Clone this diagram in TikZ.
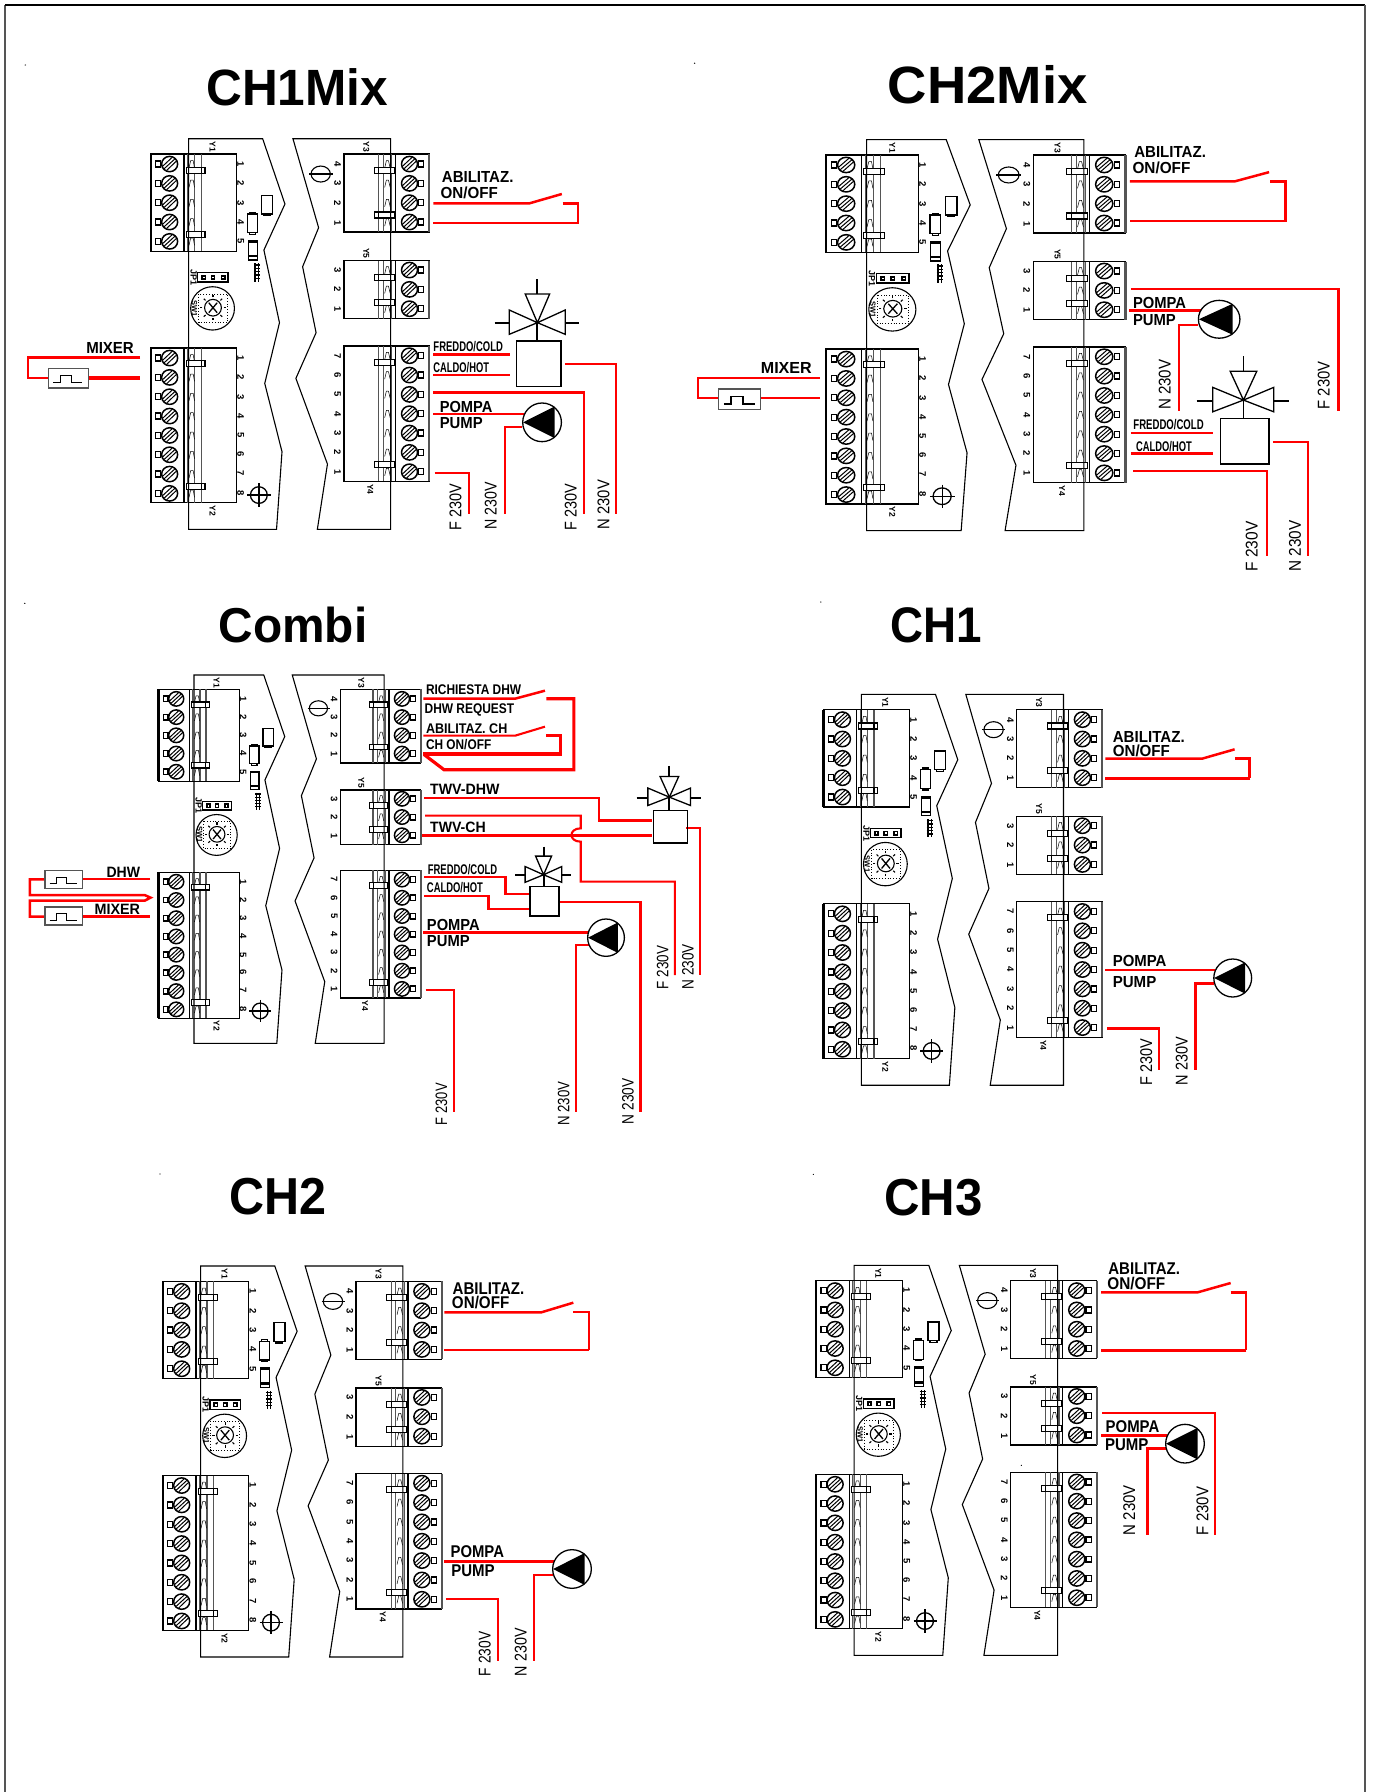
\documentclass[tikz,border=0pt]{standalone}
\usepackage{graphicx}
\usepackage{fontspec}
\setmainfont{Liberation Sans}
\newcount\lbn
\definecolor{wirered}{HTML}{FF0000}
\definecolor{edgegray}{HTML}{555555}
\tikzset{
  wa/.style={draw=wirered,line width=2.1pt,line cap=butt,line join=miter},
  wb/.style={draw=wirered,line width=2.5pt,line cap=butt,line join=miter},
  wc/.style={draw=wirered,line width=3.2pt,line cap=butt,line join=miter},
  thinl/.style={draw=black,line width=1.1pt},
  medl/.style={draw=black,line width=1.3pt},
  txt/.style={inner sep=0pt,outer sep=0pt},
}
% horizontal bold label x1 x2 baseline size text
\newcommand{\lab}[5]{\global\advance\lbn 1\relax
  \pgfmathsetlengthmacro\lw{(#2-#1)/\psx}%
  \node[txt,anchor=base west] (lab\the\lbn) at (#1,#3)
    {\resizebox{\lw}{\height}{\fontsize{#4}{#4}\selectfont\bfseries #5}};}
% vertical label baseline-x ybottom ytop size text
\newcommand{\vlab}[5]{\global\advance\lbn 1\relax
  \pgfmathsetlengthmacro\lw{(#2-#3)/\psy}%
  \node[txt,anchor=base west,rotate=90] (lab\the\lbn) at (#1,#2)
    {\resizebox{\lw}{\height}{\fontsize{#4}{#4}\selectfont #5}};}
\newcommand{\sm}[4][]{\global\advance\lbn 1\relax
  \node[txt,rotate=-90] (lab\the\lbn) at (#2,#3) {\fontsize{#4}{#4}\selectfont\bfseries #1};}
% terminals
\newcommand{\rowL}[1]{%
  \draw[medl] (370,#1-9) rectangle (382,#1+9);
  \draw[line width=1.5pt] (403,#1) ellipse[x radius=19,y radius=23];
  \draw[line width=1pt] (390,#1+14)--(416,#1-16) (396,#1+19)--(420,#1-10) (386,#1+7)--(409,#1-20);
  \draw[line width=.5pt] (449,#1+12)--(453,#1-10)--(459,#1-10)--(462,#1+12);
}
\newcommand{\rowR}[1]{%
  \draw[medl] (995,#1-9) rectangle (1007,#1+9);
  \draw[line width=1.5pt] (973,#1) ellipse[x radius=19,y radius=23];
  \draw[line width=1pt] (960,#1+14)--(986,#1-16) (966,#1+19)--(990,#1-10) (956,#1+7)--(979,#1-20);
  \draw[line width=.5pt] (914,#1+12)--(918,#1-10)--(923,#1-10)--(927,#1+12);
}
\newcommand{\clampL}[1]{\draw[thinl,fill=white] (442,#1-9) rectangle (487,#1+9); \draw[thinl] (478,#1-9)--(478,#1+9);}
\newcommand{\clampR}[1]{\draw[thinl,fill=white] (890,#1-9) rectangle (937,#1+9); \draw[thinl] (900,#1-9)--(900,#1+9);}
\newcommand{\blockL}[2]{% top bottom
  \draw[medl] (358,#1) rectangle (562,#2);
  \draw[line width=2.2pt] (358,#1)--(358,#2);
  \draw[line width=1.2pt] (437,#1)--(437,#2);
  \draw[line width=1.2pt,draw=edgegray] (445,#1)--(445,#2) (463,#1)--(463,#2);
  \draw[line width=1.2pt,draw=edgegray] (478,#1)--(478,#2);
}
\newcommand{\blockR}[2]{%
  \draw[medl] (817,#1) rectangle (1020,#2);
  \draw[line width=2.2pt,draw=edgegray] (1020,#1)--(1020,#2);
  \draw[line width=1.2pt] (940,#1)--(940,#2);
  \draw[line width=1.2pt,draw=edgegray] (931,#1)--(931,#2) (911,#1)--(911,#2);
  \draw[line width=1.2pt,draw=edgegray] (900,#1)--(900,#2);
}
\newcommand{\boardm}[4]{%
\begin{scope}[shift={(#1,#2)},xscale=#3/662,yscale=#4/1172]
\begin{scope}[shift={(-358,-296)}]
  \blockL{342}{634}\blockL{924}{1388}
  \blockR{342}{576}\blockR{662}{836}\blockR{918}{1324}
  \foreach \yy in {372,430,488,546,604,954,1012,1070,1128,1186,1244,1302,1360}{\rowL{\yy}}
  \foreach \yy in {372,430,488,546,690,748,806,947,1005,1063,1121,1179,1237,1295}{\rowR{\yy}}
  \foreach \yy in {391,583,971,1338}{\clampL{\yy}}
  \foreach \yy in {391,525,712,787,966,1274}{\clampR{\yy}}
  % board outlines
  \draw[thinl] (448,296)--(624,296)--(677,492)--(627,630)--(664,848)--(629,1030)--(670,1235)--(657,1468)--(448,1468)--cycle;
  \draw[thinl] (696,296)--(928,296)--(928,1468)--(754,1468)--(778,1272)--(703,1015)--(751,878)--(719,680)--(757,563)--cycle;
  % digits
  \foreach \yy/\tt in {372/1,430/2,488/3,546/4,604/5,954/1,1012/2,1070/3,1128/4,1186/5,1242/6,1300/7,1358/8}{\sm[\tt]{572}{\yy}{9.5}}
  \foreach \yy/\tt in {372/4,430/3,488/2,548/1,690/3,748/2,808/1,947/7,1005/6,1063/5,1121/4,1179/3,1237/2,1296/1}{\sm[\tt]{802}{\yy}{9.5}}
  \sm[Y1]{505}{320}{8.5}\sm[Y2]{505}{1412}{8.5}\sm[Y3]{870}{320}{8.5}\sm[Y5]{870}{640}{8.5}\sm[Y4]{880}{1348}{8.5}
  \sm[JP1]{460}{712}{9}\sm[SW1]{462}{805}{7.5}
  % small components
  \draw[medl] (622,466) rectangle (648,522); \draw[medl] (627,522)--(643,522)--(643,527)--(627,527)--cycle;
  \draw[medl] (588,522) rectangle (612,578); \draw[medl] (593,517) rectangle (607,522) (593,578) rectangle (607,583);
  \draw[medl] (590,602) rectangle (612,660); \fill (590,645) rectangle (612,652); \draw[line width=1.6pt] (590,606)--(612,606);
  \foreach \yy in {675,685,695,705,715}{\draw[line width=1.4pt] (603,\yy)--(617,\yy);}
  \draw[line width=1.2pt] (606,670)--(606,725) (614,670)--(614,725);
  \draw[medl] (470,698) rectangle (542,726);
  \foreach \xx in {484,506,530}{\draw[line width=1.6pt] (\xx-4,707) rectangle (\xx+4,717);}
  \draw[thinl] (505,805) ellipse[x radius=52,y radius=65];
  \draw[line width=.8pt,dotted] (472,762) rectangle (540,848);
  \draw[line width=1.1pt] (506,803) ellipse[x radius=20,y radius=25];
  \draw[line width=1.3pt] (496,788)--(516,818) (516,788)--(496,818);
  \foreach \aa in {0,45,...,315}{\draw[line width=1.1pt] ({506+25*cos(\aa)},{803+31*sin(\aa)})--({506+31*cos(\aa)},{803+38*sin(\aa)});}
  \draw[thinl] (762,402) ellipse[x radius=23,y radius=24];
  \draw[medl] (735,402)--(790,402);
  \draw[medl] (615,1365) ellipse[x radius=20,y radius=25];
  \draw[medl] (588,1365)--(643,1365) (615,1330)--(615,1400);
\end{scope}\end{scope}}
\newcommand{\pumpm}[4]{%
 \begin{scope}[shift={(#1,#2)},xscale=#3,yscale=#4]
  \draw[medl,fill=white] (0,0) circle[radius=1];
  \fill (-0.98,0)--(0.65,-0.82)--(0.65,0.82)--cycle;
 \end{scope}}
\newcommand{\valvem}[4]{%
 \begin{scope}[shift={(#1,#2)},xscale=#3,yscale=#4]
  \draw[line width=1.5pt] (-50,0) rectangle (56,136);
  \draw[line width=1.9pt] (0,-55)--(0,0);
  \draw[medl] (-29,-141)--(29,-141)--(0,-55)--cycle;
  \draw[medl] (-67,-93)--(-67,-20)--(0,-55)--cycle;
  \draw[medl] (66,-93)--(66,-20)--(0,-55)--cycle;
  \draw[line width=1.9pt] (0,-185)--(0,-141) (-102,-53)--(-67,-53) (66,-53)--(98,-53);
 \end{scope}}
\newcommand{\pulsebox}[4]{%
 \begin{scope}[shift={(#1,#2)},xscale=(#3-#1)/95,yscale=(#4-#2)/59]
  \draw[line width=1.2pt,draw=edgegray,fill=white] (0,0) rectangle (95,59);
  \draw[thinl] (12,43)--(28,43)--(28,21)--(55,21)--(55,43)--(81,43);
 \end{scope}}
\newcommand{\dotm}[2]{\fill (#1,#2) ellipse[x radius=1.8,y radius=1.8];}
\begin{document}
\begin{tikzpicture}[x=1pt,y=-1pt]
\useasboundingbox (0,0) rectangle (1373,1792);
\fill[white] (0,0) rectangle (1373,1792);
% page frame
\draw[draw=edgegray,line width=2pt] (5,1792)--(5,5);
\draw[draw=black,line width=1.6pt] (5,5)--(1365,5);
\draw[draw=edgegray,line width=2pt] (1365,5)--(1365,1792);
% boards
\boardm{150.7}{138.7}{278.6}{390.7}
\boardm{825.8}{139.6}{299.7}{391}
\boardm{158.4}{675}{262.2}{368.3}
\boardm{823.5}{694.3}{278.7}{391}
\boardm{162.7}{1266}{279}{391}
\boardm{816}{1265.3}{280.7}{390}
% ---------- CH1Mix
\begin{scope}[shift={(0,40)},xscale=1/2.376,yscale=1/3]\def\psx{2.376}\def\psy{3}
 \dotm{60}{75}
 \lab{490}{922}{195}{51}{CH1Mix}
 \draw[wb] (1030,490)--(1258,490)--(1335,462);
 \draw[wb] (1337,490)--(1373,490)--(1373,549)--(1030,549);
 \draw[wb] (333,953)--(67,953)--(67,1014)--(115,1014);
 \draw[wc] (210,1014)--(333,1014);
 \pulsebox{115}{985}{210}{1044}
 \draw[wc] (1030,944)--(1212,944);
 \draw[wa] (1030,1004)--(1212,1004);
 \draw[wb] (1030,1058)--(1388,1058)--(1388,1422);
 \draw[wa] (1030,1122)--(1245,1122);
 \draw[wa] (1240,1162)--(1199,1162)--(1199,1422);
 \draw[wb] (1033,1299)--(1114,1299)--(1114,1422);
 \draw[wa] (1342,971)--(1464,971)--(1464,1422);
 \valvem{1277}{903}{1}{1}
 \pumpm{1288}{1147}{46}{58}
 \lab{205}{318}{941}{16}{MIXER}
 \lab{1050}{1220}{426}{16}{ABILITAZ.}
 \lab{1047}{1183}{474}{16}{ON/OFF}
 \lab{1030}{1195}{934}{14}{FREDDO/COLD}
 \lab{1030}{1162}{998}{14}{CALDO/HOT}
 \lab{1045}{1170}{1116}{16}{POMPA}
 \lab{1045}{1147}{1164}{16}{PUMP}
 \vlab{1096}{1470}{1330}{17}{F 230V}
 \vlab{1180}{1468}{1326}{17}{N 230V}
 \vlab{1370}{1470}{1330}{17}{F 230V}
 \vlab{1448}{1468}{1320}{17}{N 230V}
\end{scope}
% ---------- CH2Mix
\begin{scope}[shift={(680,40)},xscale=1/2.2626,yscale=1/2.8]\def\psx{2.2626}\def\psy{2.8}
 \dotm{33}{65}
 \lab{470}{922}{178}{52.5}{CH2Mix}
 \draw[wb] (1018,396)--(1255,396)--(1333,370);
 \draw[wb] (1335,396)--(1370,396)--(1370,507)--(1018,507);
 \draw[wb] (316,947)--(41,947)--(41,1003)--(87,1003);
 \draw[wb] (183,1003)--(316,1003);
 \pulsebox{87}{977}{183}{1035}
 \draw[wa] (1020,696)--(1490,696)--(1490,1038);
 \draw[wc] (1016,758)--(1180,758);
 \draw[wa] (1172,797)--(1130,797)--(1130,1038);
 \draw[wb] (1020,1101)--(1205,1101);
 \draw[wc] (1020,1157)--(1205,1157);
 \draw[wb] (1025,1207)--(1328,1207)--(1328,1445);
 \draw[wa] (1342,1126)--(1420,1126)--(1420,1445);
 \valvem{1275}{1060}{1.04}{.94}
 \pumpm{1220}{782}{47}{53}
 \lab{183}{298}{934}{16}{MIXER}
 \lab{1028}{1190}{330}{16}{ABILITAZ.}
 \lab{1024}{1155}{374}{16}{ON/OFF}
 \lab{1025}{1145}{752}{16}{POMPA}
 \lab{1025}{1122}{800}{16}{PUMP}
 \lab{1026}{1185}{1092}{14}{FREDDO/COLD}
 \lab{1032}{1158}{1152}{14}{CALDO/HOT}
 \vlab{1110}{1036}{895}{17}{N 230V}
 \vlab{1470}{1034}{900}{17}{F 230V}
 \vlab{1307}{1488}{1348}{17}{F 230V}
 \vlab{1405}{1488}{1345}{17}{N 230V}
\end{scope}
% ---------- Combi
\begin{scope}[shift={(0,660)},xscale=1/2.178,yscale=1/3]\def\psx{2.178}\def\psy{3}
 \dotm{54}{-170}
 \lab{476}{800}{-53}{49}{Combi}
 \draw[wb] (922,116)--(1122,116)--(1187,92);
 \draw[wc] (1190,116)--(1250,116)--(1250,329)--(967,329)--(924,284);
 \draw[wa] (922,227)--(1122,227)--(1187,200);
 \draw[wc] (1190,227)--(1220,227)--(1220,282)--(922,282);
 \draw[wb] (924,414)--(1305,414)--(1305,481)--(1421,481);
 \draw[wa] (926,467)--(1265,467)--(1265,505) .. controls (1238,505) and (1238,545) .. (1265,545)--(1265,665)--(1470,665)--(1470,945);
 \draw[wc] (920,526)--(1421,526);
 \draw[wa] (1495,503)--(1525,503)--(1525,945);
 \draw[wa] (924,651)--(1101,651)--(1101,702)--(1153,702);
 \draw[wa] (924,708)--(1064,708)--(1064,748)--(1153,748);
 \draw[wa] (1217,726)--(1395,726)--(1395,1355);
 \draw[wc] (922,818)--(1283,818);
 \draw[wa] (1283,854)--(1254,854)--(1254,1355);
 \draw[wb] (927,990)--(989,990)--(989,1355);
 \draw[wa] (327,658)--(180,658);
 \draw[wb] (98,658)--(65,658)--(65,705)--(315,705)--(328,713)--(315,722)--(65,722)--(65,770)--(98,770);
 \draw[wb] (180,770)--(327,770);
 \pulsebox{98}{632}{180}{686}
 \pulsebox{98}{741}{180}{795}
 \valvem{1458}{451}{.7}{.72}
 \valvem{1184}{680}{.6}{.65}
 \pumpm{1320}{833}{40}{56}
 \lab{928}{1135}{102}{14}{RICHIESTA DHW}
 \lab{925}{1120}{160}{14}{DHW REQUEST}
 \lab{928}{1105}{220}{14}{ABILITAZ. CH}
 \lab{928}{1070}{267}{14}{CH ON/OFF}
 \lab{937}{1088}{402}{15}{TWV-DHW}
 \lab{937}{1058}{517}{15}{TWV-CH}
 \lab{932}{1083}{644}{14}{FREDDO/COLD}
 \lab{930}{1052}{698}{14}{CALDO/HOT}
 \lab{930}{1045}{812}{16}{POMPA}
 \lab{930}{1023}{860}{16}{PUMP}
 \lab{232}{305}{652}{15}{DHW}
 \lab{206}{305}{763}{15}{MIXER}
 \vlab{974}{1395}{1270}{16.5}{F 230V}
 \vlab{1240}{1397}{1265}{16.5}{N 230V}
 \vlab{1380}{1392}{1255}{16.5}{N 230V}
 \vlab{1456}{988}{858}{16.5}{F 230V}
 \vlab{1511}{988}{852}{16.5}{N 230V}
\end{scope}
% ---------- CH1
\begin{scope}[shift={(780,600)},xscale=1/2.644,yscale=1/3]\def\psx{2.644}\def\psy{3}
 \dotm{108}{6}
 \lab{293}{535}{127}{50}{CH1}
 \draw[wb] (860,476)--(1116,476)--(1202,448);
 \draw[wb] (1204,476)--(1242,476)--(1242,535);
 \draw[wc] (1243.5,535)--(860,535);
 \draw[wa] (860,1110)--(1150,1110);
 \draw[wb] (1148,1150)--(1099,1150)--(1099,1410);
 \draw[wb] (865,1285)--(1002,1285)--(1002,1410);
 \pumpm{1197}{1134}{50}{57}
 \lab{880}{1070}{427}{16}{ABILITAZ.}
 \lab{880}{1031}{468}{16}{ON/OFF}
 \lab{880}{1022}{1098}{16}{POMPA}
 \lab{880}{995}{1161}{16}{PUMP}
 \vlab{984}{1455}{1315}{17}{F 230V}
 \vlab{1078}{1455}{1310}{17}{N 230V}
\end{scope}
% ---------- CH2
\begin{scope}[shift={(130,1170)},xscale=1/3,yscale=1/3]\def\psx{3}\def\psy{3}
 \dotm{90}{12}
 \lab{297}{588}{133}{52}{CH2}
 \draw[wb] (943,427)--(1234,427)--(1330,398);
 \draw[wa] (1330,427)--(1376,427)--(1376,540);
 \draw[wb] (1377,540)--(943,540);
 \draw[wc] (943,1174)--(1272,1174);
 \draw[wa] (1268,1214)--(1213,1214)--(1213,1474);
 \draw[wa] (948,1287)--(1105,1287)--(1105,1474);
 \pumpm{1326}{1197}{58}{58}
 \lab{968}{1183}{372}{17}{ABILITAZ.}
 \lab{966}{1138}{414}{17}{ON/OFF}
 \lab{962}{1122}{1161}{17}{POMPA}
 \lab{964}{1094}{1218}{17}{PUMP}
 \vlab{1082}{1518}{1385}{17}{F 230V}
 \vlab{1190}{1518}{1375}{17}{N 230V}
\end{scope}
% ---------- CH3
\begin{scope}[shift={(780,1170)},xscale=1/3,yscale=1/3]\def\psx{3}\def\psy{3}
 \dotm{100}{13}
 \dotm{724}{886}
 \lab{313}{608}{135}{52}{CH3}
 \draw[wb] (963,367)--(1253,367)--(1352,339);
 \draw[wb] (1352,367)--(1398,367)--(1398,541);
 \draw[wc] (1399,541)--(963,541);
 \draw[wa] (967,730)--(1306,730)--(1306,1095);
 \draw[wc] (963,796)--(1162,796);
 \draw[wb] (1158,836)--(1102,836)--(1102,1095);
 \pumpm{1215}{821}{58}{58}
 \lab{985}{1200}{312}{17}{ABILITAZ.}
 \lab{982}{1156}{357}{17}{ON/OFF}
 \lab{977}{1138}{787}{17}{POMPA}
 \lab{975}{1105}{840}{17}{PUMP}
 \vlab{1065}{1095}{945}{17}{N 230V}
 \vlab{1285}{1095}{950}{17}{F 230V}
\end{scope}
\end{tikzpicture}
\end{document}
